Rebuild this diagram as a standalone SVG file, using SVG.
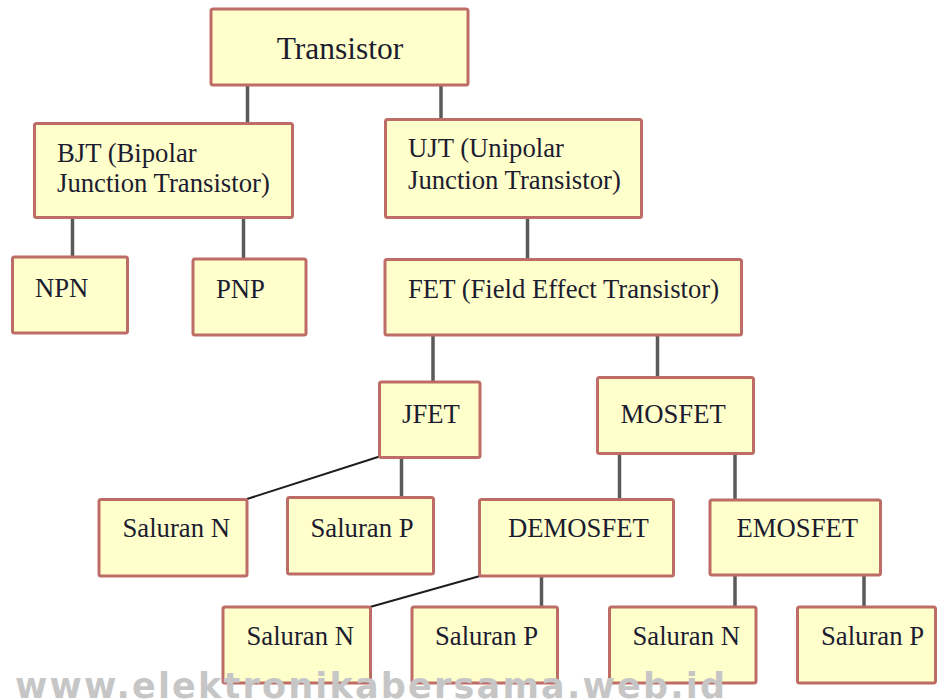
<svg xmlns="http://www.w3.org/2000/svg" width="938" height="700" viewBox="0 0 938 700">
<style>
.box{fill:#ffffcc;stroke:#bd6c66;stroke-width:3}
.lbl{font-family:"Liberation Serif","Times New Roman",serif;font-size:26.7px;fill:#1c1c30}
.v{stroke:#5a5a5a;stroke-width:3.5;fill:none}
.d{stroke:#1e1e1e;stroke-width:2;fill:none}
.wm{font-family:"DejaVu Sans",Verdana,sans-serif;font-weight:bold;font-size:35px;fill:#c6c6c6}
</style>
<rect width="938" height="700" fill="#ffffff"/>
<g id="connectors">
<line class="v" x1="247.5" y1="85" x2="247.5" y2="123"/>
<line class="v" x1="441" y1="85" x2="441" y2="120"/>
<line class="v" x1="72.5" y1="217" x2="72.5" y2="257"/>
<line class="v" x1="243.5" y1="217" x2="243.5" y2="259"/>
<line class="v" x1="527.5" y1="217" x2="527.5" y2="259"/>
<line class="v" x1="433" y1="335" x2="433" y2="382"/>
<line class="v" x1="657.5" y1="335" x2="657.5" y2="377"/>
<line class="d" x1="379.5" y1="456.5" x2="247" y2="499"/>
<line class="v" x1="401.5" y1="457" x2="401.5" y2="497"/>
<line class="v" x1="619.5" y1="453" x2="619.5" y2="499"/>
<line class="v" x1="735" y1="453" x2="735" y2="500"/>
<line class="d" x1="480" y1="576" x2="370" y2="607"/>
<line class="v" x1="541.5" y1="576" x2="541.5" y2="607"/>
<line class="v" x1="735" y1="575" x2="735" y2="607"/>
<line class="v" x1="864" y1="575" x2="864" y2="607"/>
</g>
<g id="transistor"><rect class="box" x="211" y="9" width="257" height="76" rx="2"/><text class="lbl" x="340" y="59" text-anchor="middle" style="font-size:31.5px">Transistor</text></g>
<g id="bjt"><rect class="box" x="34.5" y="123.5" width="258" height="94" rx="2"/><text class="lbl" x="57" y="162">BJT (Bipolar</text><text class="lbl" x="57" y="192">Junction Transistor)</text></g>
<g id="ujt"><rect class="box" x="385.5" y="119.5" width="256" height="98" rx="2"/><text class="lbl" x="408" y="157">UJT (Unipolar</text><text class="lbl" x="408" y="189">Junction Transistor)</text></g>
<g id="npn"><rect class="box" x="12.5" y="257" width="115" height="76" rx="2"/><text class="lbl" x="35" y="297">NPN</text></g>
<g id="pnp"><rect class="box" x="193" y="259" width="113" height="76" rx="2"/><text class="lbl" x="216" y="298">PNP</text></g>
<g id="fet"><rect class="box" x="385" y="259.5" width="356.5" height="75.5" rx="2"/><text class="lbl" x="408" y="298">FET (Field Effect Transistor)</text></g>
<g id="jfet"><rect class="box" x="379.5" y="382" width="100.5" height="75.5" rx="2"/><text class="lbl" x="402" y="423">JFET</text></g>
<g id="mosfet"><rect class="box" x="597.5" y="377.5" width="156" height="76" rx="2"/><text class="lbl" x="620.5" y="423">MOSFET</text></g>
<g id="jfet-saluran-n"><rect class="box" x="99" y="499.5" width="148" height="76.5" rx="2"/><text class="lbl" x="122.5" y="537">Saluran N</text></g>
<g id="jfet-saluran-p"><rect class="box" x="287.5" y="497.5" width="146" height="76.5" rx="2"/><text class="lbl" x="310.5" y="537">Saluran P</text></g>
<g id="demosfet"><rect class="box" x="479.5" y="499.5" width="194" height="76.5" rx="2"/><text class="lbl" x="508" y="537">DEMOSFET</text></g>
<g id="emosfet"><rect class="box" x="710" y="500" width="170.5" height="75" rx="2"/><text class="lbl" x="736.5" y="537">EMOSFET</text></g>
<g id="demosfet-saluran-n"><rect class="box" x="223" y="607" width="147.5" height="76" rx="2"/><text class="lbl" x="246.5" y="645">Saluran N</text></g>
<g id="demosfet-saluran-p"><rect class="box" x="412" y="607" width="145.5" height="76" rx="2"/><text class="lbl" x="435" y="645">Saluran P</text></g>
<g id="emosfet-saluran-n"><rect class="box" x="609.5" y="607" width="146.5" height="76" rx="2"/><text class="lbl" x="632.5" y="645">Saluran N</text></g>
<g id="emosfet-saluran-p"><rect class="box" x="797.5" y="607" width="138" height="76" rx="2"/><text class="lbl" x="821" y="645">Saluran P</text></g>
<text class="wm" x="15" y="698" textLength="710" lengthAdjust="spacing">www.elektronikabersama.web.id</text>
</svg>
